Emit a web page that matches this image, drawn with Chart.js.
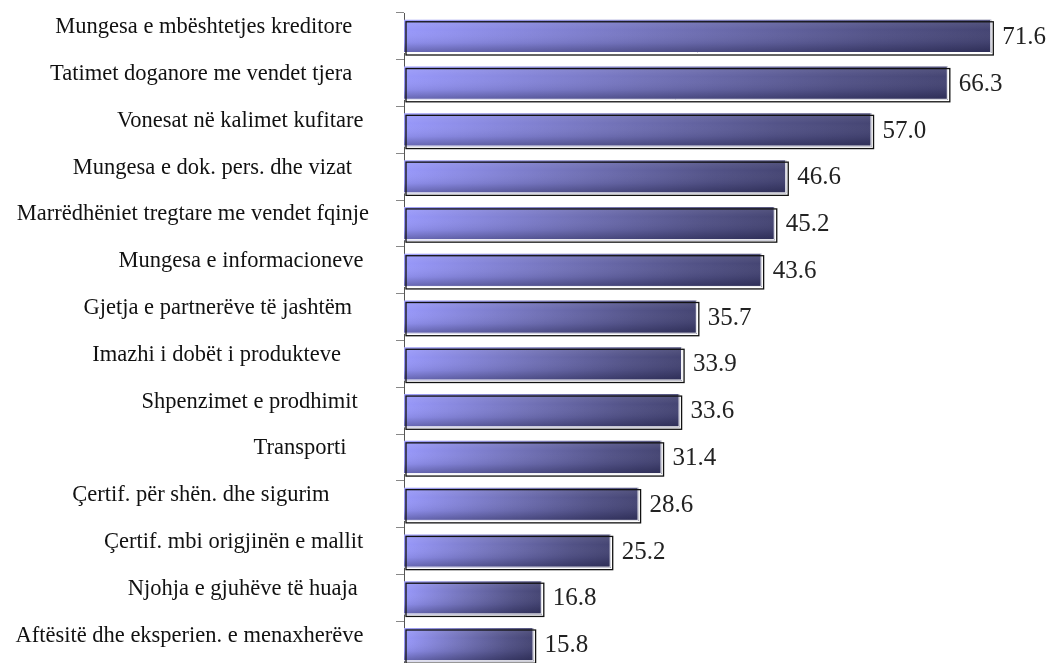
<!DOCTYPE html>
<html>
<head>
<meta charset="utf-8">
<script src="https://cdn.jsdelivr.net/npm/chart.js@4/dist/chart.umd.min.js"></script>
<style>
  html, body { margin: 0; padding: 0; background: #fff; overflow: hidden; }
  #wrap { width: 1055px; height: 668px; }
</style>
</head>
<body>
<div id="wrap"><canvas id="barChart"></canvas></div>
<script>
// Chart data (labels keep the trailing spaces of the original so they sit ragged)
const categories = [
  "Mungesa e mbështetjes kreditore   ",
  "Tatimet doganore me vendet tjera   ",
  "Vonesat në kalimet kufitare ",
  "Mungesa e dok. pers. dhe vizat   ",
  "Marrëdhëniet tregtare me vendet fqinje",
  "Mungesa e informacioneve ",
  "Gjetja e partnerëve të jashtëm   ",
  "Imazhi i dobët i produkteve     ",
  "Shpenzimet e prodhimit  ",
  "Transporti    ",
  "Çertif. për shën. dhe sigurim       ",
  "Çertif. mbi origjinën e mallit ",
  "Njohja e gjuhëve të huaja  ",
  "Aftësitë dhe eksperien. e menaxherëve "
]
const values = [71.6, 66.3, 57.0, 46.6, 45.2, 43.6, 35.7, 33.9, 33.6, 31.4, 28.6, 25.2, 16.8, 15.8]
const valueLabels = values.map((v) => v.toFixed(1))

// Horizontal gradient for each bar, from light periwinkle to dark navy
function barGradient(context) {
  const chart = context.chart
  if (!chart.chartArea) return "#7070c0"
  const xScale = chart.scales.x
  const x0 = xScale.getPixelForValue(0)
  const x1 = xScale.getPixelForValue(values[context.dataIndex])
  const g = chart.ctx.createLinearGradient(x0, 0, x1, 0)
  g.addColorStop(0, "#9898fa")
  g.addColorStop(0.45, "#7272b8")
  g.addColorStop(0.8, "#535388")
  g.addColorStop(1, "#454573")
  return g
}

// Shading, outline and value labels drawn on top of the bars
const barFinish = {
  id: "barFinish",
  afterDatasetsDraw(chart) {
    const ctx = chart.ctx
    const meta = chart.getDatasetMeta(0)
    ctx.save()
    meta.data.forEach((bar, i) => {
      const { x, y, base, height } = bar.getProps(["x", "y", "base", "height"], true)
      const top = y - height / 2
      const w = x - base

      // vertical shading
      const vg = ctx.createLinearGradient(0, top, 0, top + height)
      vg.addColorStop(0, "rgba(255,255,255,0.10)")
      vg.addColorStop(0.3, "rgba(255,255,255,0)")
      vg.addColorStop(0.7, "rgba(0,0,30,0.08)")
      vg.addColorStop(1, "rgba(0,0,30,0.35)")
      ctx.fillStyle = vg
      ctx.fillRect(base, top, w, height)

      // white edge bottom/right
      ctx.strokeStyle = "#ffffff"
      ctx.lineWidth = 1
      ctx.beginPath()
      ctx.moveTo(base, top + height - 0.5)
      ctx.lineTo(x - 0.5, top + height - 0.5)
      ctx.lineTo(x - 0.5, top)
      ctx.stroke()

      // offset dark outline
      ctx.strokeStyle = "#111111"
      ctx.lineWidth = 1.3
      ctx.strokeRect(base + 2, top + 2, w, height)

      // value label
      ctx.fillStyle = "#222222"
      ctx.font = "25px 'Liberation Serif', 'Times New Roman', serif"
      ctx.textAlign = "left"
      ctx.textBaseline = "middle"
      ctx.fillText(valueLabels[i], x + 11, y + 1)
    })
    ctx.restore()
  },
}

function initializeChart() {
  const canvas = document.getElementById("barChart")
  new Chart(canvas.getContext("2d"), {
    type: "bar",
    data: {
      labels: categories,
      datasets: [
        {
          data: values,
          backgroundColor: barGradient,
          borderWidth: 0,
          barPercentage: 0.71,
          categoryPercentage: 1,
        },
      ],
    },
    options: {
      indexAxis: "y",
      responsive: true,
      maintainAspectRatio: false,
      animation: false,
      layout: { padding: { top: 13, right: 3, bottom: 0, left: 0 } },
      plugins: {
        legend: { display: false },
        tooltip: { enabled: false },
      },
      scales: {
        x: {
          display: false,
          min: 0,
          max: 79,
        },
        y: {
          afterFit(scale) {
            scale.width = 404
            scale.paddingTop = 0
            scale.paddingBottom = 0
          },
          border: { display: true, color: "#555555", width: 1 },
          grid: {
            display: true,
            drawOnChartArea: false,
            drawTicks: true,
            tickLength: 8,
            color: "#888888",
          },
          ticks: {
            autoSkip: false,
            padding: 27,
            labelOffset: -9,
            color: "#111111",
            font: { family: "'Liberation Serif', 'Times New Roman', serif", size: 22.5 },
          },
        },
      },
    },
    plugins: [barFinish],
  })
}

document.addEventListener("DOMContentLoaded", initializeChart)
</script>
</body>
</html>
